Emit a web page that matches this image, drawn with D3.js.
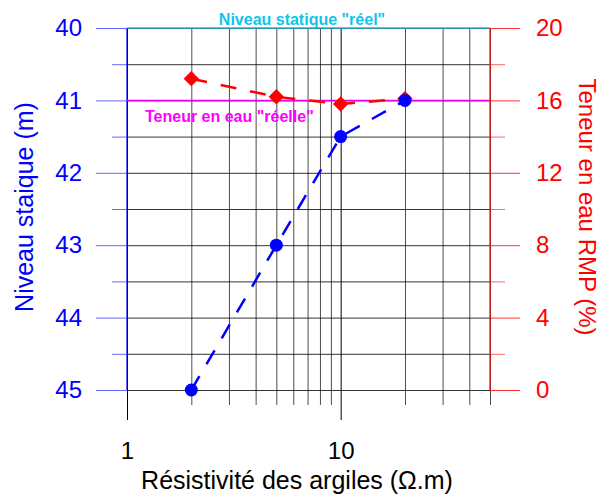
<!DOCTYPE html>
<html>
<head>
<meta charset="utf-8">
<script src="https://cdn.jsdelivr.net/npm/d3@7"></script>
<style>
  body { margin: 0; background: #fff; }
  svg { display: block; font-family: "Liberation Sans", Arial, sans-serif; }
</style>
</head>
<body>
<svg id="chart" width="601" height="495"></svg>
<script>
// ---- data ----
const resistivity = [2, 5, 10, 20];          // Ω.m
const niveau = [45, 43, 41.5, 41];           // m
const teneur = [17.2, 16.2, 15.8, 16.1];     // %
const niveauReel = 40;
const teneurReelle = 16;
const xMajorTicks = [1, 10];
const xMinorTicks = [2, 3, 4, 5, 6, 7, 8, 9, 20, 30, 40, 50];
const yLeftTicks = [40, 41, 42, 43, 44, 45];
const yLeftMinor = [40.5, 41.5, 42.5, 43.5, 44.5];
const yRightTicks = [0, 4, 8, 12, 16, 20];
const yRightMinor = [2, 6, 10, 14, 18];

const svg = d3.select("#chart");
const L = 127, R = 490, T = 28, B = 390;

const x = d3.scaleLog().domain([1, 50]).range([L, R]);
const yL = d3.scaleLinear().domain([40, 45]).range([T, B]);
const yR = d3.scaleLinear().domain([0, 20]).range([B, T]);

function clean(g) { g.select(".domain").remove(); }

// horizontal grid
svg.append("g").attr("transform", `translate(${L},0)`)
  .call(d3.axisRight(yL).tickValues(yLeftTicks.concat(yLeftMinor)).tickSize(R - L).tickFormat(""))
  .call(clean)
  .selectAll("line").attr("stroke", "#000").attr("stroke-opacity", 0.8);

// vertical grid (minor) from top to below bottom
svg.append("g").attr("transform", `translate(0,${T})`)
  .call(d3.axisBottom(x).tickValues(xMinorTicks).tickSize(405 - T).tickFormat(""))
  .call(clean)
  .selectAll("line").attr("stroke", "#000").attr("stroke-opacity", 0.7);

// vertical major lines + labels
svg.append("g").attr("transform", `translate(0,${T})`)
  .call(d3.axisBottom(x).tickValues(xMajorTicks).tickSize(420 - T).tickPadding(22).tickFormat(d3.format("d")))
  .call(clean)
  .call(g => g.selectAll("line").attr("stroke", "#000"))
  .call(g => g.selectAll("text").attr("font-size", 24).attr("fill", "#000"));

// left axis: major ticks + labels
svg.append("g").attr("transform", `translate(${L},0)`)
  .call(d3.axisLeft(yL).tickValues(yLeftTicks).tickSize(31).tickPadding(14).tickFormat(d3.format("d")))
  .call(clean)
  .call(g => g.selectAll("line").attr("stroke", "#0000ff").attr("stroke-opacity", 0.6))
  .call(g => g.selectAll("text").attr("font-size", 24).attr("fill", "#0000ff"));
svg.append("g").attr("transform", `translate(${L},0)`)
  .call(d3.axisLeft(yL).tickValues(yLeftMinor).tickSize(15).tickFormat(""))
  .call(clean)
  .selectAll("line").attr("stroke", "#0000ff").attr("stroke-opacity", 0.6);
svg.append("line").attr("x1", L).attr("x2", L).attr("y1", T).attr("y2", B)
  .attr("stroke", "#0000ff").attr("stroke-width", 1.2);

// right axis
svg.append("g").attr("transform", `translate(${R},0)`)
  .call(d3.axisRight(yR).tickValues(yRightTicks).tickSize(30).tickPadding(16).tickFormat(d3.format("d")))
  .call(clean)
  .call(g => g.selectAll("line").attr("stroke", "#ff0000").attr("stroke-opacity", 0.8))
  .call(g => g.selectAll("text").attr("font-size", 24).attr("fill", "#ff0000"));
svg.append("g").attr("transform", `translate(${R},0)`)
  .call(d3.axisRight(yR).tickValues(yRightMinor).tickSize(15).tickFormat(""))
  .call(clean)
  .selectAll("line").attr("stroke", "#ff0000").attr("stroke-opacity", 0.6);
svg.append("line").attr("x1", R).attr("x2", R).attr("y1", T).attr("y2", B)
  .attr("stroke", "#ff0000").attr("stroke-width", 1.2);

// reference lines
svg.append("line").attr("x1", L).attr("x2", R).attr("y1", yL(niveauReel)).attr("y2", yL(niveauReel))
  .attr("stroke", "#29b6d8").attr("stroke-width", 1.5);
svg.append("line").attr("x1", L).attr("x2", R).attr("y1", yR(teneurReelle)).attr("y2", yR(teneurReelle))
  .attr("stroke", "#ee00ee").attr("stroke-width", 1.5);

svg.append("text").attr("x", 302).attr("y", 25).attr("text-anchor", "middle")
  .attr("font-size", 16).attr("font-weight", "bold").attr("fill", "#11c4ee")
  .text('Niveau statique "réel"');
svg.append("text").attr("x", 145).attr("y", 122)
  .attr("font-size", 16).attr("font-weight", "bold").attr("fill", "#ff00ff")
  .text('Teneur en eau "réelle"');

// series
const lineN = d3.line().x((d, i) => x(resistivity[i])).y(d => yL(d));
const lineT = d3.line().x((d, i) => x(resistivity[i])).y(d => yR(d));

svg.append("path").datum(teneur).attr("d", lineT)
  .attr("fill", "none").attr("stroke", "#ff0000").attr("stroke-width", 2.5)
  .attr("stroke-dasharray", "16,14");
svg.append("path").datum(niveau).attr("d", lineN)
  .attr("fill", "none").attr("stroke", "#0000ff").attr("stroke-width", 2.5)
  .attr("stroke-dasharray", "16,14");

svg.append("g").selectAll("path").data(teneur).join("path")
  .attr("transform", (d, i) => `translate(${x(resistivity[i])},${yR(d)})`)
  .attr("d", d3.symbol().type(d3.symbolDiamond2).size(150))
  .attr("fill", "#ff0000");
svg.append("g").selectAll("circle").data(niveau).join("circle")
  .attr("cx", (d, i) => x(resistivity[i])).attr("cy", d => yL(d)).attr("r", 6.5)
  .attr("fill", "#0000ff");

// axis titles
svg.append("text").attr("transform", "translate(33,207) rotate(-90)")
  .attr("text-anchor", "middle").attr("font-size", 25).attr("fill", "#0000ff")
  .text("Niveau staique (m)");
svg.append("text").attr("transform", "translate(579,207) rotate(90)")
  .attr("text-anchor", "middle").attr("font-size", 24).attr("fill", "#ff0000")
  .text("Teneur en eau RMP (%)");
svg.append("text").attr("x", 297).attr("y", 489).attr("text-anchor", "middle")
  .attr("font-size", 25).attr("fill", "#000")
  .text("Résistivité des argiles (Ω.m)");
</script>
</body>
</html>
